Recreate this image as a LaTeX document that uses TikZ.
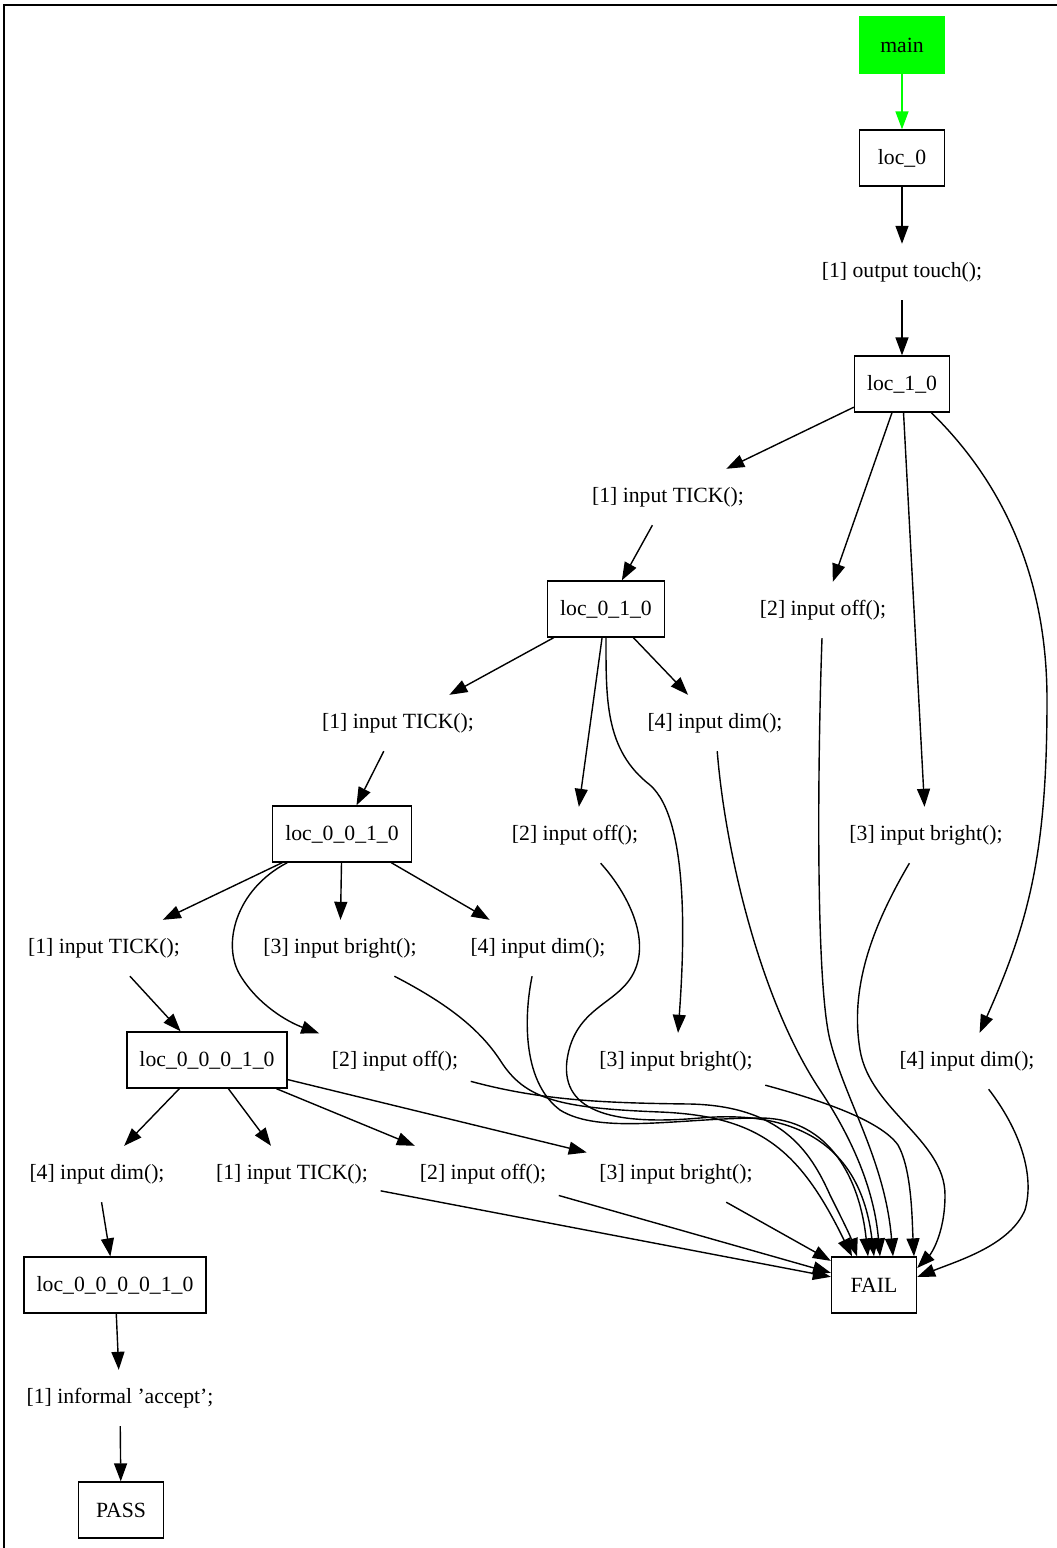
\documentclass[tikz,border=0pt]{standalone}
\usepackage{fontspec}
\setmainfont{Liberation Serif}
\usetikzlibrary{arrows.meta}
\begin{document}
\begin{tikzpicture}[x=1pt,y=-1pt,font=\fontsize{21.7}{26}\selectfont]
\tikzset{
  box/.style={draw, line width=1.3pt, minimum width=85pt, minimum height=56pt, inner xsep=12.5pt, inner ysep=0pt},
  lbl/.style={minimum height=56pt, inner xsep=12.5pt, inner ysep=0pt},
  conn/.style={line width=1.4pt, -{Triangle[length=18pt,width=13pt]}},
}
\useasboundingbox (0,0) rectangle (1057,1548);
\fill[white] (0,0) rectangle (1057,1548);
\draw[line width=1.3pt] (1057,5) -- (4,5) -- (4,1548);

% nodes
\node[box, fill=green, draw=green] (main) at (902,45) {main};
\node[box] (loc0) at (902,158) {loc\_0};
\node[lbl] (touch) at (902,272) {[1] output touch();};
\node[box] (loc10) at (902,384) {loc\_1\_0};
\node[lbl] (tickA) at (668,497) {[1] input TICK();};
\node[box] (loc010) at (606,609) {loc\_0\_1\_0};
\node[lbl] (offA) at (823,610) {[2] input off();};
\node[lbl] (tickB) at (398,723) {[1] input TICK();};
\node[lbl] (dimB) at (715,723) {[4] input dim();};
\node[lbl] (offB) at (575,835) {[2] input off();};
\node[lbl] (brightA) at (926,835) {[3] input bright();};
\node[box] (loc0010) at (342,834) {loc\_0\_0\_1\_0};
\node[lbl] (tickC) at (104,948) {[1] input TICK();};
\node[lbl] (brightC) at (340,948) {[3] input bright();};
\node[lbl] (dimD) at (538,948) {[4] input dim();};
\node[box] (loc00010) at (207,1060) {loc\_0\_0\_0\_1\_0};
\node[lbl] (offC) at (395,1061) {[2] input off();};
\node[lbl] (brightB) at (676,1061) {[3] input bright();};
\node[lbl] (dimC) at (967,1061) {[4] input dim();};
\node[lbl] (dimE) at (97,1174) {[4] input dim();};
\node[lbl] (tickD) at (292,1174) {[1] input TICK();};
\node[lbl] (offD) at (483,1174) {[2] input off();};
\node[lbl] (brightD) at (676,1174) {[3] input bright();};
\node[box] (loc000010) at (115,1285) {loc\_0\_0\_0\_0\_1\_0};
\node[box] (fail) at (874,1285) {FAIL};
\node[lbl] (accept) at (120,1398) {[1] informal 'accept';};
\node[box] (pass) at (121,1510) {PASS};

% straight connectors
\draw[conn, draw=green, -{Triangle[length=18pt,width=13pt,fill=green]}] (main) -- (loc0);
\draw[conn] (loc0) -- (touch);
\draw[conn] (touch) -- (loc10);
\draw[conn] (loc10) -- (tickA);
\draw[conn] (loc10) -- (offA);
\draw[conn] (loc10) -- (brightA);
\draw[conn] (tickA) -- (loc010);
\draw[conn] (loc010) -- (tickB);
\draw[conn] (loc010) -- (offB);
\draw[conn] (loc010) -- (dimB);
\draw[conn] (tickB) -- (loc0010);
\draw[conn] (loc0010) -- (tickC);
\draw[conn] (loc0010) -- (brightC);
\draw[conn] (loc0010) -- (dimD);
\draw[conn] (tickC) -- (loc00010);
\draw[conn] (loc00010) -- (dimE);
\draw[conn] (loc00010) -- (tickD);
\draw[conn] (loc00010) -- (offD);
\draw[conn] (loc00010) -- (brightD);
\draw[conn] (dimE) -- (loc000010);
\draw[conn] (loc000010) -- (accept);
\draw[conn] (accept) -- (pass);

% curved connectors
\draw[conn] (loc10) .. controls (990,470) and (1047,560) .. (1047,700)
  .. controls (1047,850) and (1030,920) .. (dimC);
\draw[conn] (loc010) .. controls (606,700) and (605,750) .. (650,785)
  .. controls (690,820) and (684,950) .. (brightB);
\draw[conn] (loc0010) .. controls (235,890) and (222,945) .. (240,975)
  .. controls (258,1005) and (288,1022) .. (offC);

% connectors to FAIL
\draw[conn] (brightD) -- (fail);
\draw[conn] (offD) -- (fail);
\draw[conn] (tickD) -- (fail);
\draw[conn] (brightC) .. controls (450,1005) and (480,1030) .. (500,1060)
  .. controls (525,1100) and (560,1108) .. (660,1112)
  .. controls (760,1116) and (800,1150) .. ([xshift=-22pt]fail.north);
\draw[conn] (offC) .. controls (540,1100) and (600,1103) .. (690,1104)
  .. controls (780,1106) and (810,1150) .. (830,1195)
  .. controls (840,1215) and (850,1235) .. ([xshift=-17pt]fail.north);
\draw[conn] (dimD) .. controls (525,1010) and (520,1080) .. (560,1110)
  .. controls (600,1135) and (680,1118) .. (760,1118)
  .. controls (830,1118) and (860,1180) .. ([xshift=-6pt]fail.north);
\draw[conn] (offB) .. controls (625,890) and (650,935) .. (635,970)
  .. controls (620,1005) and (575,1005) .. (567,1060)
  .. controls (560,1115) and (620,1125) .. (700,1118)
  .. controls (790,1110) and (860,1140) .. ([xshift=0pt]fail.north);
\draw[conn] (dimB) .. controls (725,850) and (760,1000) .. (820,1090)
  .. controls (860,1150) and (875,1200) .. ([xshift=6pt]fail.north);
\draw[conn] (offA) .. controls (818,750) and (815,980) .. (830,1040)
  .. controls (845,1100) and (885,1160) .. ([xshift=19pt]fail.north);
\draw[conn] (brightB) .. controls (820,1100) and (880,1120) .. (898,1145)
  .. controls (912,1170) and (912,1220) .. ([xshift=40pt]fail.north);
\draw[conn] (brightA) .. controls (870,930) and (850,990) .. (860,1050)
  .. controls (870,1110) and (945,1140) .. (945,1195)
  .. controls (945,1235) and (930,1255) .. ([yshift=17pt]fail.east);
\draw[conn] (dimC) .. controls (1020,1130) and (1035,1175) .. (1025,1210)
  .. controls (1010,1245) and (960,1260) .. ([yshift=8pt]fail.east);
\end{tikzpicture}
\end{document}
